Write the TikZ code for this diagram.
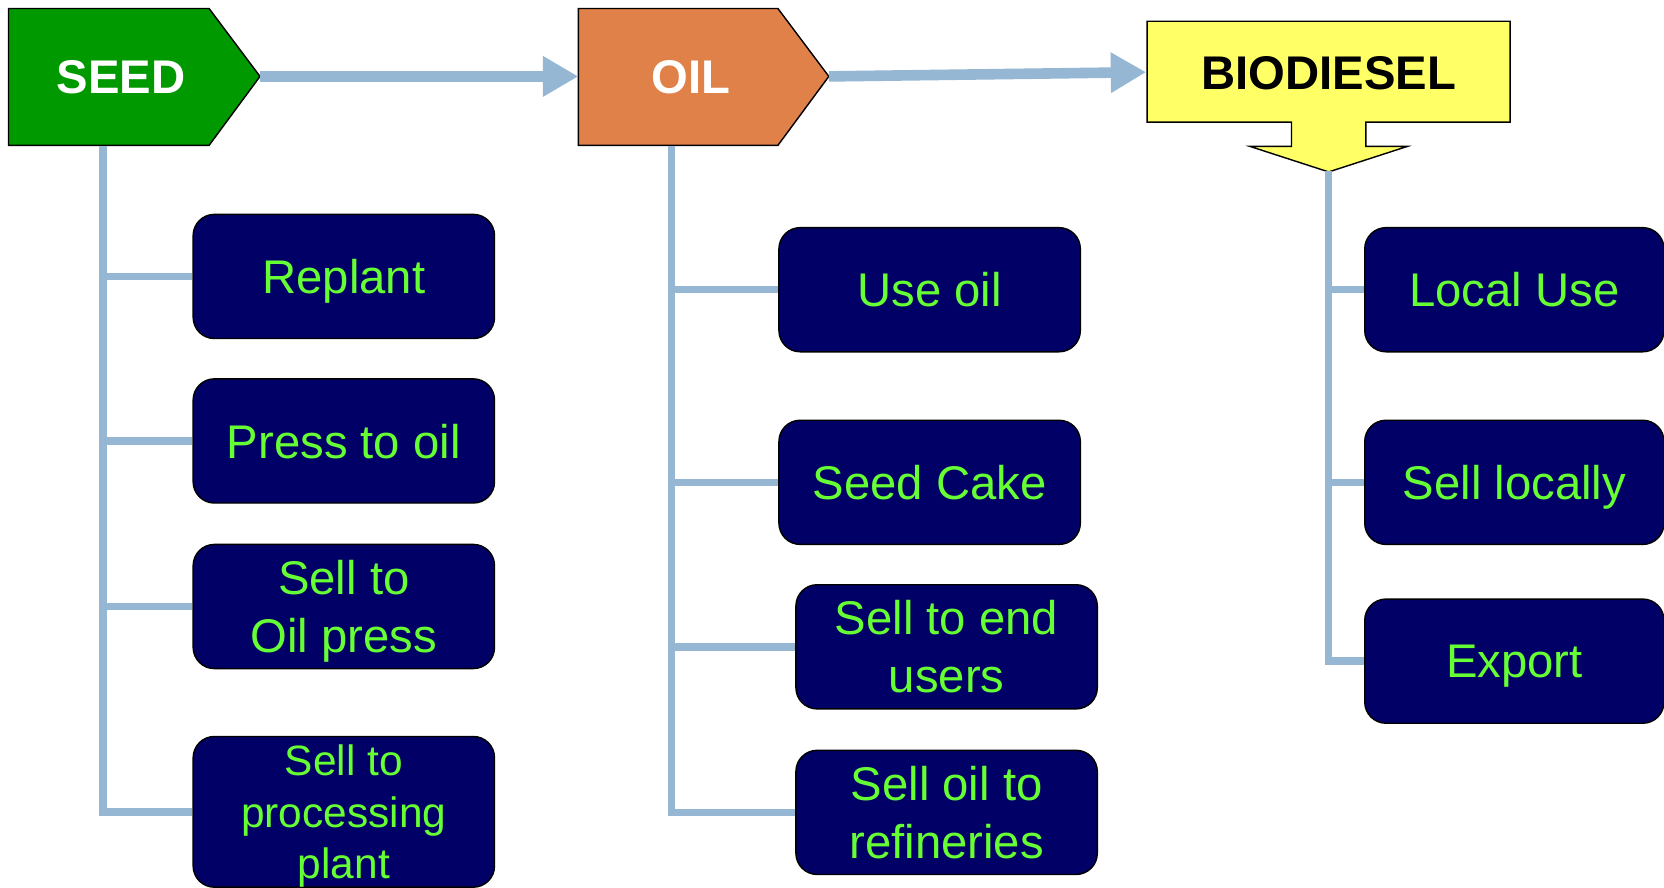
\documentclass[tikz,border=0pt]{standalone}
\usepackage{fontspec}
\setmainfont{Liberation Sans}
\usetikzlibrary{arrows.meta}
\definecolor{seedgreen}{HTML}{009900}
\definecolor{oilorange}{HTML}{DF8149}
\definecolor{bioyellow}{HTML}{FFFF66}
\definecolor{boxnavy}{HTML}{000066}
\definecolor{textlime}{HTML}{66FF33}
\definecolor{linkblue}{HTML}{95B7D3}
\tikzset{
  optbox/.style={draw=black, line width=1pt, fill=boxnavy, rounded corners=15pt,
    minimum width=213pt, minimum height=87.75pt, inner sep=0pt, align=center,
    text depth=0pt, text=textlime, font=\fontsize{33.4}{41}\selectfont},
  link/.style={draw=linkblue, line width=5.25pt},
  flow/.style={draw=linkblue, line width=7.5pt, -{Triangle[length=25pt,width=27pt]}},
  headtext/.style={font=\bfseries\fontsize{33.4}{40}\selectfont, inner sep=0pt},
  outline/.style={draw=black, line width=1pt}
}
\begin{document}
\begin{tikzpicture}[x=0.75pt,y=-0.75pt]
\useasboundingbox (0,0) rectangle (1568,836);
% header shapes
\draw[outline, fill=seedgreen] (8,8) -- (197,8) -- (245,72) -- (197,137) -- (8,137) -- cycle;
\node[headtext, text=white] (seed) at (114,73) {SEED};
\coordinate (seedtip) at (245,72);
\coordinate (seedbase) at (97,138);
\draw[outline, fill=oilorange] (545,8) -- (733,8) -- (781,72) -- (733,137) -- (545,137) -- cycle;
\node[headtext, text=white] (oil) at (651,73) {OIL};
\coordinate (oilleft) at (545,72);
\coordinate (oiltip) at (781,72);
\coordinate (oilbase) at (633,138);
\draw[outline, fill=bioyellow] (1081,20) -- (1423,20) -- (1423,115) -- (1287,115) -- (1287,138)
  -- (1326,138) -- (1252,162) -- (1178,138) -- (1217,138) -- (1217,115) -- (1081,115) -- cycle;
\node[headtext, text=black] (bio) at (1252,69) {BIODIESEL};
\coordinate (bioleft) at (1080,68);
\coordinate (biobase) at (1252,161);
% main flow arrows
\draw[flow] (seedtip) -- (oilleft);
\draw[flow] (oiltip) -- (bioleft);
% seed options
\node[optbox] (replant) at (324,260.5) {Replant};
\node[optbox] (press) at (324,415.5) {Press to oil};
\node[optbox] (sellpress) at (324,571.5) {Sell to\\Oil press};
\node[optbox, minimum height=106.5pt, font=\fontsize{30}{36.4}\selectfont] (proc) at (324,765) {Sell to\\processing\\plant};
% oil options
\node[optbox] (useoil) at (876,273) {Use oil};
\node[optbox] (cake) at (876,454.5) {Seed Cake};
\node[optbox] (endusers) at (892,609.5) {Sell to end\\users};
\node[optbox] (refin) at (892,765.5) {Sell oil to\\refineries};
% biodiesel options
\node[optbox, minimum width=211.5pt] (local) at (1427,273) {Local Use};
\node[optbox, minimum width=211.5pt] (selllocal) at (1427,454.5) {Sell locally};
\node[optbox, minimum width=211.5pt] (export) at (1427,623) {Export};
% links
\draw[link] (seedbase) |- (proc.west);
\draw[link] (seedbase |- replant.west) -- (replant.west);
\draw[link] (seedbase |- press.west) -- (press.west);
\draw[link] (seedbase |- sellpress.west) -- (sellpress.west);
\draw[link] (oilbase) |- (refin.west);
\draw[link] (oilbase |- useoil.west) -- (useoil.west);
\draw[link] (oilbase |- cake.west) -- (cake.west);
\draw[link] (oilbase |- endusers.west) -- (endusers.west);
\draw[link] (biobase) |- (export.west);
\draw[link] (biobase |- local.west) -- (local.west);
\draw[link] (biobase |- selllocal.west) -- (selllocal.west);
\end{tikzpicture}
\end{document}
